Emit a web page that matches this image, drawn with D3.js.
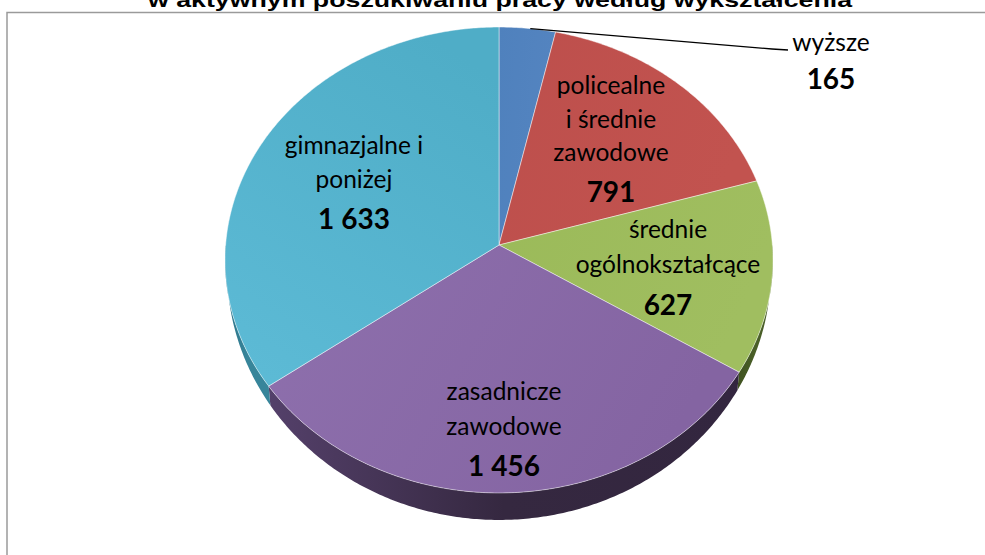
<!DOCTYPE html>
<html><head><meta charset="utf-8">
<script src="https://cdn.jsdelivr.net/npm/d3@7/dist/d3.min.js"></script>
<style>html,body{margin:0;padding:0;background:#fff;overflow:hidden}svg{display:block}</style>
</head><body><svg id="c" width="985" height="555"></svg>
<script>
const titleText = "w aktywnym poszukiwaniu pracy według wykształcenia";
const categories = ["wyższe","policealne i średnie zawodowe","średnie ogólnokształcące","zasadnicze zawodowe","gimnazjalne i poniżej"];
const values = [165,791,627,1456,1633];
const valueLabels = ["165","791","627","1 456","1 633"];
const labelLines = [["wyższe"],["policealne","i średnie","zawodowe"],["średnie","ogólnokształcące"],["zasadnicze","zawodowe"],["gimnazjalne i","poniżej"]];
const topColors = [["#4f81bd","#5484c0"],["#bd4f4c","#c2534f"],["#9bba59","#a0be60"],["#8464a2","#8e70ad"],["#4fadc7","#5cbad5"]];
const wallColors = [["#2f4d72","#2f4d72"],["#733030","#733030"],["#3f5220","#4a5f28"],["#54406a","#352840"],["#2c7388","#37859a"]];
const labelPos = [[831,43,37,0],[611,86,33.5,6],[668,230,35,6],[504,392,35,5],[354,146,34,6]];

const svg = d3.select("#c");
const cx=499, cy=245, c=-0.0644, a=216.2, d=273.4;
const project = (t)=>{const u=Math.sin(t),v=-Math.cos(t),w=1+c*v;return [cx+d*u/w,(cy+a*v)/w];};
const lower = ([x,y])=>[cx+(x-cx)*0.9927,270+(y-260)*1.073];
const arcAngles = (s,e)=>{const n=Math.max(2,Math.ceil((e-s)/0.01));return d3.range(n+1).map(i=>s+(e-s)*i/n);};
const line = d3.line();
const slices = d3.pie().sort(null).value(v=>v)(values);

const defs = svg.append("defs");
slices.forEach((s,i)=>{
  const g=defs.append("linearGradient").attr("id","t"+i);
  if(i==4){ g.attr("x1",0.7).attr("y1",0).attr("x2",0.2).attr("y2",1); }
  else { g.attr("x1",0).attr("y1",0).attr("x2",1).attr("y2",0.3); }
  g.append("stop").attr("offset",0).attr("stop-color",topColors[i][i==3?1:0]);
  g.append("stop").attr("offset",1).attr("stop-color",topColors[i][i==3?0:1]);
  const h=defs.append("linearGradient").attr("id","w"+i).attr("x1",0).attr("y1",0).attr("x2",1).attr("y2",0);
  h.append("stop").attr("offset",0).attr("stop-color",wallColors[i][0]);
  h.append("stop").attr("offset",0.5).attr("stop-color",wallColors[i][1]);
  h.append("stop").attr("offset",1).attr("stop-color",i==3?"#33263f":wallColors[i][1]);
});

// frame
svg.append("path").attr("d",line([[7,555],[7,12.5],[985,12.5]])).attr("fill","none").attr("stroke","#9a9a9a").attr("stroke-width",1.5);

// title
svg.append("text").attr("x",500).attr("y",7).attr("text-anchor","middle")
  .attr("font-family","Liberation Sans").attr("font-weight","bold").attr("font-size",19.5)
  .attr("textLength",704).attr("lengthAdjust","spacingAndGlyphs").attr("fill","#000").text(titleText);

// walls: only the front half of the rim shows below the top face
slices.forEach((s,i)=>{
  const from=Math.max(s.startAngle,Math.PI/2), to=Math.min(s.endAngle,Math.PI*3/2);
  if(to<=from) return;
  const rim=arcAngles(from,to).map(project);
  const low=rim.map(lower).reverse();
  svg.append("path").attr("d",line(rim.concat(low))+"Z").attr("fill",`url(#w${i})`);
});
// tops
slices.forEach((s,i)=>{
  const rim=arcAngles(s.startAngle,s.endAngle).map(project);
  svg.append("path").attr("d",line([[cx,cy]].concat(rim))+"Z").attr("fill",`url(#t${i})`)
    .attr("stroke","#ffffff").attr("stroke-opacity",0.45).attr("stroke-width",1).attr("stroke-linejoin","round");
});

// leader
const leadStart = project(slices[0].startAngle+(slices[0].endAngle-slices[0].startAngle)*0.55);
svg.append("path").attr("d",line([leadStart,[772,49],[788,50]])).attr("fill","none").attr("stroke","#000").attr("stroke-width",1.3);

// labels
slices.forEach((s,i)=>{
  const [x,y,dy,gap]=labelPos[i];
  const g=svg.append("g").attr("text-anchor","middle").attr("fill","#000").attr("font-family","Lato");
  labelLines[i].forEach((t,k)=>{
    g.append("text").attr("x",x).attr("y",y+k*dy+8).attr("font-size",24.5).text(t);
  });
  g.append("text").attr("x",x).attr("y",y+labelLines[i].length*dy+9+gap).attr("font-size",28).attr("font-weight","bold").text(valueLabels[i]);
});
</script></body></html>
